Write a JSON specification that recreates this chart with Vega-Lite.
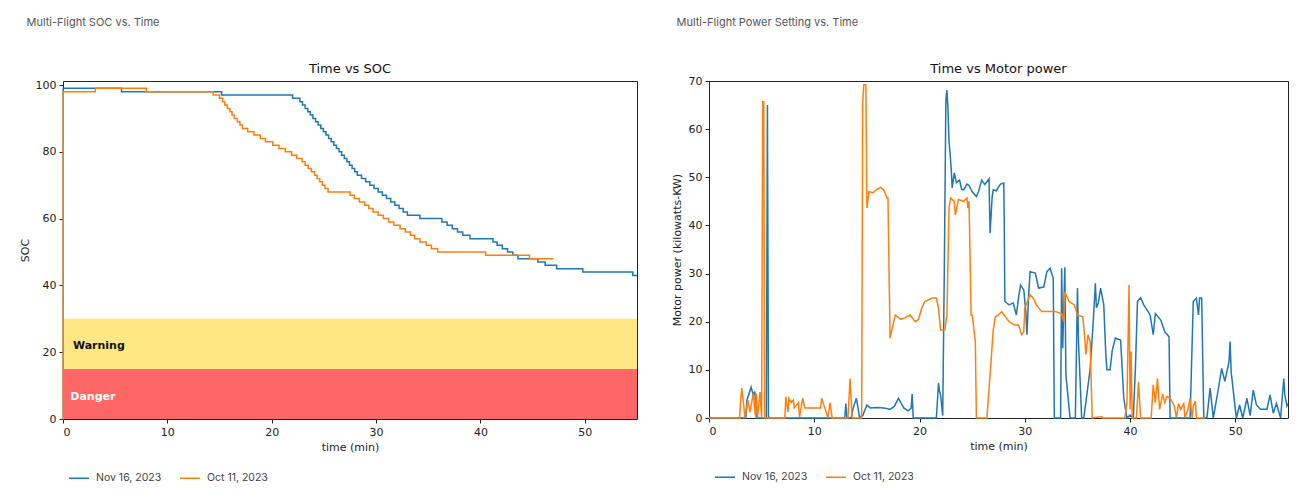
{
  "$schema": "https://vega.github.io/schema/vega-lite/v6.json",
  "background": "white",
  "padding": {"left": 18, "top": 16, "right": 0, "bottom": 0},
  "autosize": {"type": "pad"},
  "config": {
    "view": {"stroke": "#222", "strokeWidth": 1},
    "axis": {"grid": false, "domain": false, "tickColor": "#222", "tickSize": 4, "tickWidth": 1, "labelFont": "DejaVu Sans", "labelFontSize": 11, "labelColor": "#222", "labelPadding": 3, "titleFont": "DejaVu Sans", "titleFontSize": 11, "titleFontWeight": "normal", "titleColor": "#222"},
    "legend": {"orient": "bottom", "direction": "horizontal", "title": null, "symbolType": "stroke", "symbolSize": 400, "symbolStrokeWidth": 1.5, "labelFont": "Inter", "labelFontSize": 10.5, "labelColor": "#444", "labelOffset": 6, "columnPadding": 15, "padding": 5, "offset": 9}
  },
  "datasets": {
    "soc": [
      {"t": 0, "soc": 0, "flight": "Nov 16, 2023"},
      {"t": 0.02, "soc": 99, "flight": "Nov 16, 2023"},
      {"t": 5.6, "soc": 98, "flight": "Nov 16, 2023"},
      {"t": 15.2, "soc": 97, "flight": "Nov 16, 2023"},
      {"t": 22.0, "soc": 96, "flight": "Nov 16, 2023"},
      {"t": 22.7, "soc": 95, "flight": "Nov 16, 2023"},
      {"t": 22.95, "soc": 94, "flight": "Nov 16, 2023"},
      {"t": 23.2, "soc": 93, "flight": "Nov 16, 2023"},
      {"t": 23.45, "soc": 92, "flight": "Nov 16, 2023"},
      {"t": 23.7, "soc": 91, "flight": "Nov 16, 2023"},
      {"t": 23.95, "soc": 90, "flight": "Nov 16, 2023"},
      {"t": 24.2, "soc": 89, "flight": "Nov 16, 2023"},
      {"t": 24.45, "soc": 88, "flight": "Nov 16, 2023"},
      {"t": 24.7, "soc": 87, "flight": "Nov 16, 2023"},
      {"t": 24.95, "soc": 86, "flight": "Nov 16, 2023"},
      {"t": 25.2, "soc": 85, "flight": "Nov 16, 2023"},
      {"t": 25.45, "soc": 84, "flight": "Nov 16, 2023"},
      {"t": 25.7, "soc": 83, "flight": "Nov 16, 2023"},
      {"t": 25.95, "soc": 82, "flight": "Nov 16, 2023"},
      {"t": 26.2, "soc": 81, "flight": "Nov 16, 2023"},
      {"t": 26.45, "soc": 80, "flight": "Nov 16, 2023"},
      {"t": 26.7, "soc": 79, "flight": "Nov 16, 2023"},
      {"t": 26.95, "soc": 78, "flight": "Nov 16, 2023"},
      {"t": 27.2, "soc": 77, "flight": "Nov 16, 2023"},
      {"t": 27.45, "soc": 76, "flight": "Nov 16, 2023"},
      {"t": 27.7, "soc": 75, "flight": "Nov 16, 2023"},
      {"t": 27.95, "soc": 74, "flight": "Nov 16, 2023"},
      {"t": 28.2, "soc": 73, "flight": "Nov 16, 2023"},
      {"t": 28.6, "soc": 72, "flight": "Nov 16, 2023"},
      {"t": 29.0, "soc": 71, "flight": "Nov 16, 2023"},
      {"t": 29.4, "soc": 70, "flight": "Nov 16, 2023"},
      {"t": 29.8, "soc": 69, "flight": "Nov 16, 2023"},
      {"t": 30.2, "soc": 68, "flight": "Nov 16, 2023"},
      {"t": 30.6, "soc": 67, "flight": "Nov 16, 2023"},
      {"t": 31.0, "soc": 66, "flight": "Nov 16, 2023"},
      {"t": 31.4, "soc": 65, "flight": "Nov 16, 2023"},
      {"t": 31.8, "soc": 64, "flight": "Nov 16, 2023"},
      {"t": 32.2, "soc": 63, "flight": "Nov 16, 2023"},
      {"t": 32.6, "soc": 62, "flight": "Nov 16, 2023"},
      {"t": 33.0, "soc": 61, "flight": "Nov 16, 2023"},
      {"t": 34.2, "soc": 60, "flight": "Nov 16, 2023"},
      {"t": 36.3, "soc": 59, "flight": "Nov 16, 2023"},
      {"t": 36.8, "soc": 58, "flight": "Nov 16, 2023"},
      {"t": 37.3, "soc": 57, "flight": "Nov 16, 2023"},
      {"t": 37.8, "soc": 56, "flight": "Nov 16, 2023"},
      {"t": 38.3, "soc": 55, "flight": "Nov 16, 2023"},
      {"t": 39.0, "soc": 54, "flight": "Nov 16, 2023"},
      {"t": 41.2, "soc": 53, "flight": "Nov 16, 2023"},
      {"t": 41.6, "soc": 52, "flight": "Nov 16, 2023"},
      {"t": 42.1, "soc": 51, "flight": "Nov 16, 2023"},
      {"t": 42.6, "soc": 50, "flight": "Nov 16, 2023"},
      {"t": 43.1, "soc": 49, "flight": "Nov 16, 2023"},
      {"t": 43.6, "soc": 48, "flight": "Nov 16, 2023"},
      {"t": 45.5, "soc": 47, "flight": "Nov 16, 2023"},
      {"t": 46.2, "soc": 46, "flight": "Nov 16, 2023"},
      {"t": 47.3, "soc": 45, "flight": "Nov 16, 2023"},
      {"t": 49.8, "soc": 44, "flight": "Nov 16, 2023"},
      {"t": 54.6, "soc": 43, "flight": "Nov 16, 2023"},
      {"t": 55.0, "soc": 43, "flight": "Nov 16, 2023"},
      {"t": 0, "soc": 0, "flight": "Oct 11, 2023"},
      {"t": 0.02, "soc": 98, "flight": "Oct 11, 2023"},
      {"t": 3.1, "soc": 99, "flight": "Oct 11, 2023"},
      {"t": 8.0, "soc": 98, "flight": "Oct 11, 2023"},
      {"t": 14.4, "soc": 97, "flight": "Oct 11, 2023"},
      {"t": 15.0, "soc": 96, "flight": "Oct 11, 2023"},
      {"t": 15.3, "soc": 95, "flight": "Oct 11, 2023"},
      {"t": 15.5, "soc": 94, "flight": "Oct 11, 2023"},
      {"t": 15.75, "soc": 93, "flight": "Oct 11, 2023"},
      {"t": 16.0, "soc": 92, "flight": "Oct 11, 2023"},
      {"t": 16.2, "soc": 91, "flight": "Oct 11, 2023"},
      {"t": 16.4, "soc": 90, "flight": "Oct 11, 2023"},
      {"t": 16.7, "soc": 89, "flight": "Oct 11, 2023"},
      {"t": 16.95, "soc": 88, "flight": "Oct 11, 2023"},
      {"t": 17.2, "soc": 87, "flight": "Oct 11, 2023"},
      {"t": 17.7, "soc": 86, "flight": "Oct 11, 2023"},
      {"t": 18.3, "soc": 85, "flight": "Oct 11, 2023"},
      {"t": 18.9, "soc": 84, "flight": "Oct 11, 2023"},
      {"t": 19.4, "soc": 83, "flight": "Oct 11, 2023"},
      {"t": 20.1, "soc": 82, "flight": "Oct 11, 2023"},
      {"t": 20.7, "soc": 81, "flight": "Oct 11, 2023"},
      {"t": 21.3, "soc": 80, "flight": "Oct 11, 2023"},
      {"t": 21.9, "soc": 79, "flight": "Oct 11, 2023"},
      {"t": 22.4, "soc": 78, "flight": "Oct 11, 2023"},
      {"t": 22.9, "soc": 77, "flight": "Oct 11, 2023"},
      {"t": 23.2, "soc": 76, "flight": "Oct 11, 2023"},
      {"t": 23.5, "soc": 75, "flight": "Oct 11, 2023"},
      {"t": 23.8, "soc": 74, "flight": "Oct 11, 2023"},
      {"t": 24.1, "soc": 73, "flight": "Oct 11, 2023"},
      {"t": 24.35, "soc": 72, "flight": "Oct 11, 2023"},
      {"t": 24.6, "soc": 71, "flight": "Oct 11, 2023"},
      {"t": 24.85, "soc": 70, "flight": "Oct 11, 2023"},
      {"t": 25.1, "soc": 69, "flight": "Oct 11, 2023"},
      {"t": 25.4, "soc": 68, "flight": "Oct 11, 2023"},
      {"t": 27.5, "soc": 67, "flight": "Oct 11, 2023"},
      {"t": 27.9, "soc": 66, "flight": "Oct 11, 2023"},
      {"t": 28.4, "soc": 65, "flight": "Oct 11, 2023"},
      {"t": 28.9, "soc": 64, "flight": "Oct 11, 2023"},
      {"t": 29.3, "soc": 63, "flight": "Oct 11, 2023"},
      {"t": 29.7, "soc": 62, "flight": "Oct 11, 2023"},
      {"t": 30.2, "soc": 61, "flight": "Oct 11, 2023"},
      {"t": 30.7, "soc": 60, "flight": "Oct 11, 2023"},
      {"t": 31.2, "soc": 59, "flight": "Oct 11, 2023"},
      {"t": 31.7, "soc": 58, "flight": "Oct 11, 2023"},
      {"t": 32.3, "soc": 57, "flight": "Oct 11, 2023"},
      {"t": 32.8, "soc": 56, "flight": "Oct 11, 2023"},
      {"t": 33.3, "soc": 55, "flight": "Oct 11, 2023"},
      {"t": 33.7, "soc": 54, "flight": "Oct 11, 2023"},
      {"t": 34.2, "soc": 53, "flight": "Oct 11, 2023"},
      {"t": 34.8, "soc": 52, "flight": "Oct 11, 2023"},
      {"t": 35.3, "soc": 51, "flight": "Oct 11, 2023"},
      {"t": 35.9, "soc": 50, "flight": "Oct 11, 2023"},
      {"t": 40.5, "soc": 49, "flight": "Oct 11, 2023"},
      {"t": 44.7, "soc": 48, "flight": "Oct 11, 2023"},
      {"t": 47.0, "soc": 48, "flight": "Oct 11, 2023"}
    ],
    "power": [
      {"t": 0, "p": 0, "flight": "Nov 16, 2023"},
      {"t": 3.5, "p": 0, "flight": "Nov 16, 2023"},
      {"t": 3.6, "p": 3.7, "flight": "Nov 16, 2023"},
      {"t": 4.0, "p": 6.4, "flight": "Nov 16, 2023"},
      {"t": 4.2, "p": 4.8, "flight": "Nov 16, 2023"},
      {"t": 4.35, "p": 5.5, "flight": "Nov 16, 2023"},
      {"t": 4.5, "p": 0, "flight": "Nov 16, 2023"},
      {"t": 5.45, "p": 0, "flight": "Nov 16, 2023"},
      {"t": 5.55, "p": 65, "flight": "Nov 16, 2023"},
      {"t": 5.65, "p": 0, "flight": "Nov 16, 2023"},
      {"t": 12.9, "p": 0, "flight": "Nov 16, 2023"},
      {"t": 13.0, "p": 3, "flight": "Nov 16, 2023"},
      {"t": 13.1, "p": 0, "flight": "Nov 16, 2023"},
      {"t": 13.5, "p": 0, "flight": "Nov 16, 2023"},
      {"t": 13.7, "p": 2.1, "flight": "Nov 16, 2023"},
      {"t": 14.0, "p": 4.1, "flight": "Nov 16, 2023"},
      {"t": 14.3, "p": 0.2, "flight": "Nov 16, 2023"},
      {"t": 14.6, "p": 0.5, "flight": "Nov 16, 2023"},
      {"t": 15.0, "p": 2.7, "flight": "Nov 16, 2023"},
      {"t": 15.3, "p": 2.1, "flight": "Nov 16, 2023"},
      {"t": 16.0, "p": 2.2, "flight": "Nov 16, 2023"},
      {"t": 16.6, "p": 2.1, "flight": "Nov 16, 2023"},
      {"t": 17.2, "p": 1.8, "flight": "Nov 16, 2023"},
      {"t": 17.6, "p": 2.4, "flight": "Nov 16, 2023"},
      {"t": 18.0, "p": 4.1, "flight": "Nov 16, 2023"},
      {"t": 18.5, "p": 2.1, "flight": "Nov 16, 2023"},
      {"t": 18.9, "p": 1.5, "flight": "Nov 16, 2023"},
      {"t": 19.2, "p": 2.0, "flight": "Nov 16, 2023"},
      {"t": 19.3, "p": 5.0, "flight": "Nov 16, 2023"},
      {"t": 19.4, "p": 0, "flight": "Nov 16, 2023"},
      {"t": 21.6, "p": 0, "flight": "Nov 16, 2023"},
      {"t": 21.8, "p": 7.3, "flight": "Nov 16, 2023"},
      {"t": 21.9, "p": 5.5, "flight": "Nov 16, 2023"},
      {"t": 22.0, "p": 4.8, "flight": "Nov 16, 2023"},
      {"t": 22.2, "p": 0.5, "flight": "Nov 16, 2023"},
      {"t": 22.35, "p": 30, "flight": "Nov 16, 2023"},
      {"t": 22.5, "p": 66, "flight": "Nov 16, 2023"},
      {"t": 22.6, "p": 68.1, "flight": "Nov 16, 2023"},
      {"t": 22.7, "p": 64, "flight": "Nov 16, 2023"},
      {"t": 22.8, "p": 57.4, "flight": "Nov 16, 2023"},
      {"t": 22.9, "p": 55, "flight": "Nov 16, 2023"},
      {"t": 23.0, "p": 52, "flight": "Nov 16, 2023"},
      {"t": 23.1, "p": 47.8, "flight": "Nov 16, 2023"},
      {"t": 23.3, "p": 50.9, "flight": "Nov 16, 2023"},
      {"t": 23.5, "p": 48.9, "flight": "Nov 16, 2023"},
      {"t": 23.8, "p": 49.4, "flight": "Nov 16, 2023"},
      {"t": 24.0, "p": 47.5, "flight": "Nov 16, 2023"},
      {"t": 24.2, "p": 47.4, "flight": "Nov 16, 2023"},
      {"t": 24.5, "p": 48.6, "flight": "Nov 16, 2023"},
      {"t": 24.7, "p": 48.3, "flight": "Nov 16, 2023"},
      {"t": 25.0, "p": 47, "flight": "Nov 16, 2023"},
      {"t": 25.4, "p": 46.0, "flight": "Nov 16, 2023"},
      {"t": 25.6, "p": 47, "flight": "Nov 16, 2023"},
      {"t": 25.9, "p": 49.4, "flight": "Nov 16, 2023"},
      {"t": 26.2, "p": 48.5, "flight": "Nov 16, 2023"},
      {"t": 26.6, "p": 49.7, "flight": "Nov 16, 2023"},
      {"t": 26.7, "p": 38.4, "flight": "Nov 16, 2023"},
      {"t": 26.9, "p": 46, "flight": "Nov 16, 2023"},
      {"t": 27.0, "p": 47.4, "flight": "Nov 16, 2023"},
      {"t": 27.3, "p": 47.2, "flight": "Nov 16, 2023"},
      {"t": 27.5, "p": 48, "flight": "Nov 16, 2023"},
      {"t": 27.7, "p": 48.6, "flight": "Nov 16, 2023"},
      {"t": 28.0, "p": 48.8, "flight": "Nov 16, 2023"},
      {"t": 28.05, "p": 40, "flight": "Nov 16, 2023"},
      {"t": 28.1, "p": 24.2, "flight": "Nov 16, 2023"},
      {"t": 28.5, "p": 23.5, "flight": "Nov 16, 2023"},
      {"t": 28.9, "p": 23.9, "flight": "Nov 16, 2023"},
      {"t": 29.2, "p": 21.4, "flight": "Nov 16, 2023"},
      {"t": 29.4, "p": 25, "flight": "Nov 16, 2023"},
      {"t": 29.6, "p": 27.6, "flight": "Nov 16, 2023"},
      {"t": 29.9, "p": 26.6, "flight": "Nov 16, 2023"},
      {"t": 30.1, "p": 22, "flight": "Nov 16, 2023"},
      {"t": 30.2, "p": 17.3, "flight": "Nov 16, 2023"},
      {"t": 30.35, "p": 25, "flight": "Nov 16, 2023"},
      {"t": 30.5, "p": 30.4, "flight": "Nov 16, 2023"},
      {"t": 31.0, "p": 30.1, "flight": "Nov 16, 2023"},
      {"t": 31.3, "p": 27.0, "flight": "Nov 16, 2023"},
      {"t": 31.8, "p": 27.2, "flight": "Nov 16, 2023"},
      {"t": 32.1, "p": 30.4, "flight": "Nov 16, 2023"},
      {"t": 32.4, "p": 31.1, "flight": "Nov 16, 2023"},
      {"t": 32.7, "p": 29.0, "flight": "Nov 16, 2023"},
      {"t": 32.8, "p": 0, "flight": "Nov 16, 2023"},
      {"t": 33.4, "p": 0, "flight": "Nov 16, 2023"},
      {"t": 33.5, "p": 31.1, "flight": "Nov 16, 2023"},
      {"t": 33.6, "p": 14.5, "flight": "Nov 16, 2023"},
      {"t": 33.8, "p": 31.3, "flight": "Nov 16, 2023"},
      {"t": 33.9, "p": 9.0, "flight": "Nov 16, 2023"},
      {"t": 34.3, "p": 0, "flight": "Nov 16, 2023"},
      {"t": 34.8, "p": 0, "flight": "Nov 16, 2023"},
      {"t": 35.0, "p": 27.0, "flight": "Nov 16, 2023"},
      {"t": 35.1, "p": 15.8, "flight": "Nov 16, 2023"},
      {"t": 35.4, "p": 0, "flight": "Nov 16, 2023"},
      {"t": 35.6, "p": 0, "flight": "Nov 16, 2023"},
      {"t": 36.2, "p": 10, "flight": "Nov 16, 2023"},
      {"t": 36.5, "p": 20, "flight": "Nov 16, 2023"},
      {"t": 36.7, "p": 28.0, "flight": "Nov 16, 2023"},
      {"t": 36.8, "p": 22.9, "flight": "Nov 16, 2023"},
      {"t": 37.0, "p": 24, "flight": "Nov 16, 2023"},
      {"t": 37.2, "p": 27.0, "flight": "Nov 16, 2023"},
      {"t": 37.5, "p": 23.5, "flight": "Nov 16, 2023"},
      {"t": 37.6, "p": 18, "flight": "Nov 16, 2023"},
      {"t": 37.7, "p": 13, "flight": "Nov 16, 2023"},
      {"t": 37.8, "p": 10.0, "flight": "Nov 16, 2023"},
      {"t": 38.1, "p": 10.0, "flight": "Nov 16, 2023"},
      {"t": 38.3, "p": 14, "flight": "Nov 16, 2023"},
      {"t": 38.6, "p": 16.6, "flight": "Nov 16, 2023"},
      {"t": 39.1, "p": 16.2, "flight": "Nov 16, 2023"},
      {"t": 39.4, "p": 4.1, "flight": "Nov 16, 2023"},
      {"t": 39.7, "p": 0, "flight": "Nov 16, 2023"},
      {"t": 40.0, "p": 0.6, "flight": "Nov 16, 2023"},
      {"t": 40.3, "p": 0, "flight": "Nov 16, 2023"},
      {"t": 40.5, "p": 10, "flight": "Nov 16, 2023"},
      {"t": 40.7, "p": 24.2, "flight": "Nov 16, 2023"},
      {"t": 41.0, "p": 25.0, "flight": "Nov 16, 2023"},
      {"t": 41.3, "p": 23.5, "flight": "Nov 16, 2023"},
      {"t": 41.9, "p": 21.4, "flight": "Nov 16, 2023"},
      {"t": 42.2, "p": 17.3, "flight": "Nov 16, 2023"},
      {"t": 42.4, "p": 21.7, "flight": "Nov 16, 2023"},
      {"t": 42.9, "p": 20.4, "flight": "Nov 16, 2023"},
      {"t": 43.3, "p": 17.9, "flight": "Nov 16, 2023"},
      {"t": 43.7, "p": 16.9, "flight": "Nov 16, 2023"},
      {"t": 43.8, "p": 0, "flight": "Nov 16, 2023"},
      {"t": 45.7, "p": 0, "flight": "Nov 16, 2023"},
      {"t": 46.0, "p": 24.2, "flight": "Nov 16, 2023"},
      {"t": 46.3, "p": 24.9, "flight": "Nov 16, 2023"},
      {"t": 46.5, "p": 21.4, "flight": "Nov 16, 2023"},
      {"t": 46.6, "p": 24.9, "flight": "Nov 16, 2023"},
      {"t": 46.8, "p": 24.9, "flight": "Nov 16, 2023"},
      {"t": 47.0, "p": 0, "flight": "Nov 16, 2023"},
      {"t": 47.3, "p": 0, "flight": "Nov 16, 2023"},
      {"t": 47.6, "p": 6.2, "flight": "Nov 16, 2023"},
      {"t": 47.9, "p": 0, "flight": "Nov 16, 2023"},
      {"t": 48.4, "p": 6.2, "flight": "Nov 16, 2023"},
      {"t": 48.7, "p": 10.3, "flight": "Nov 16, 2023"},
      {"t": 49.0, "p": 7.6, "flight": "Nov 16, 2023"},
      {"t": 49.4, "p": 11.7, "flight": "Nov 16, 2023"},
      {"t": 49.5, "p": 15.9, "flight": "Nov 16, 2023"},
      {"t": 49.6, "p": 9.6, "flight": "Nov 16, 2023"},
      {"t": 50.0, "p": 1.8, "flight": "Nov 16, 2023"},
      {"t": 50.1, "p": 0, "flight": "Nov 16, 2023"},
      {"t": 50.4, "p": 2.7, "flight": "Nov 16, 2023"},
      {"t": 50.7, "p": 0, "flight": "Nov 16, 2023"},
      {"t": 51.1, "p": 4.1, "flight": "Nov 16, 2023"},
      {"t": 51.4, "p": 0.5, "flight": "Nov 16, 2023"},
      {"t": 51.7, "p": 5.8, "flight": "Nov 16, 2023"},
      {"t": 52.0, "p": 2.7, "flight": "Nov 16, 2023"},
      {"t": 52.4, "p": 1.8, "flight": "Nov 16, 2023"},
      {"t": 53.0, "p": 1.8, "flight": "Nov 16, 2023"},
      {"t": 53.3, "p": 4.8, "flight": "Nov 16, 2023"},
      {"t": 53.6, "p": 1.0, "flight": "Nov 16, 2023"},
      {"t": 53.9, "p": 3.0, "flight": "Nov 16, 2023"},
      {"t": 54.3, "p": 0, "flight": "Nov 16, 2023"},
      {"t": 54.6, "p": 8.2, "flight": "Nov 16, 2023"},
      {"t": 54.7, "p": 4.8, "flight": "Nov 16, 2023"},
      {"t": 54.9, "p": 2.5, "flight": "Nov 16, 2023"},
      {"t": 55.0, "p": 3, "flight": "Nov 16, 2023"},
      {"t": 0, "p": 0, "flight": "Oct 11, 2023"},
      {"t": 2.9, "p": 0, "flight": "Oct 11, 2023"},
      {"t": 3.1, "p": 6.2, "flight": "Oct 11, 2023"},
      {"t": 3.3, "p": 2.7, "flight": "Oct 11, 2023"},
      {"t": 3.4, "p": 0, "flight": "Oct 11, 2023"},
      {"t": 3.7, "p": 3.7, "flight": "Oct 11, 2023"},
      {"t": 3.9, "p": 1.2, "flight": "Oct 11, 2023"},
      {"t": 4.2, "p": 5.1, "flight": "Oct 11, 2023"},
      {"t": 4.4, "p": 0.6, "flight": "Oct 11, 2023"},
      {"t": 4.5, "p": 5.1, "flight": "Oct 11, 2023"},
      {"t": 4.6, "p": 0, "flight": "Oct 11, 2023"},
      {"t": 4.85, "p": 5.4, "flight": "Oct 11, 2023"},
      {"t": 5.0, "p": 0, "flight": "Oct 11, 2023"},
      {"t": 5.1, "p": 65.7, "flight": "Oct 11, 2023"},
      {"t": 5.2, "p": 65.7, "flight": "Oct 11, 2023"},
      {"t": 5.3, "p": 0, "flight": "Oct 11, 2023"},
      {"t": 7.2, "p": 0, "flight": "Oct 11, 2023"},
      {"t": 7.3, "p": 4.4, "flight": "Oct 11, 2023"},
      {"t": 7.5, "p": 1.2, "flight": "Oct 11, 2023"},
      {"t": 7.6, "p": 4.1, "flight": "Oct 11, 2023"},
      {"t": 7.8, "p": 3.2, "flight": "Oct 11, 2023"},
      {"t": 8.0, "p": 3.7, "flight": "Oct 11, 2023"},
      {"t": 8.1, "p": 2.1, "flight": "Oct 11, 2023"},
      {"t": 8.5, "p": 3.2, "flight": "Oct 11, 2023"},
      {"t": 8.6, "p": 0.2, "flight": "Oct 11, 2023"},
      {"t": 8.9, "p": 4.1, "flight": "Oct 11, 2023"},
      {"t": 9.1, "p": 2.1, "flight": "Oct 11, 2023"},
      {"t": 10.6, "p": 2.1, "flight": "Oct 11, 2023"},
      {"t": 10.7, "p": 4.1, "flight": "Oct 11, 2023"},
      {"t": 11.0, "p": 2.1, "flight": "Oct 11, 2023"},
      {"t": 11.3, "p": 0, "flight": "Oct 11, 2023"},
      {"t": 11.5, "p": 3.2, "flight": "Oct 11, 2023"},
      {"t": 11.7, "p": 0, "flight": "Oct 11, 2023"},
      {"t": 13.2, "p": 0, "flight": "Oct 11, 2023"},
      {"t": 13.4, "p": 8.2, "flight": "Oct 11, 2023"},
      {"t": 13.6, "p": 0, "flight": "Oct 11, 2023"},
      {"t": 14.5, "p": 0, "flight": "Oct 11, 2023"},
      {"t": 14.6, "p": 65.4, "flight": "Oct 11, 2023"},
      {"t": 14.7, "p": 69.2, "flight": "Oct 11, 2023"},
      {"t": 14.9, "p": 69.2, "flight": "Oct 11, 2023"},
      {"t": 15.0, "p": 43.6, "flight": "Oct 11, 2023"},
      {"t": 15.2, "p": 47.0, "flight": "Oct 11, 2023"},
      {"t": 15.6, "p": 46.8, "flight": "Oct 11, 2023"},
      {"t": 15.9, "p": 47.4, "flight": "Oct 11, 2023"},
      {"t": 16.3, "p": 47.9, "flight": "Oct 11, 2023"},
      {"t": 16.6, "p": 47.4, "flight": "Oct 11, 2023"},
      {"t": 16.9, "p": 45.7, "flight": "Oct 11, 2023"},
      {"t": 17.0, "p": 45.7, "flight": "Oct 11, 2023"},
      {"t": 17.2, "p": 16.6, "flight": "Oct 11, 2023"},
      {"t": 17.4, "p": 18.6, "flight": "Oct 11, 2023"},
      {"t": 17.7, "p": 21.4, "flight": "Oct 11, 2023"},
      {"t": 18.2, "p": 20.5, "flight": "Oct 11, 2023"},
      {"t": 18.6, "p": 20.8, "flight": "Oct 11, 2023"},
      {"t": 19.1, "p": 21.4, "flight": "Oct 11, 2023"},
      {"t": 19.6, "p": 20.0, "flight": "Oct 11, 2023"},
      {"t": 19.9, "p": 20.5, "flight": "Oct 11, 2023"},
      {"t": 20.2, "p": 22.8, "flight": "Oct 11, 2023"},
      {"t": 20.5, "p": 24.2, "flight": "Oct 11, 2023"},
      {"t": 21.2, "p": 24.9, "flight": "Oct 11, 2023"},
      {"t": 21.6, "p": 24.9, "flight": "Oct 11, 2023"},
      {"t": 21.8, "p": 22.8, "flight": "Oct 11, 2023"},
      {"t": 22.0, "p": 18.3, "flight": "Oct 11, 2023"},
      {"t": 22.4, "p": 18.3, "flight": "Oct 11, 2023"},
      {"t": 22.6, "p": 21.4, "flight": "Oct 11, 2023"},
      {"t": 22.8, "p": 43.6, "flight": "Oct 11, 2023"},
      {"t": 22.95, "p": 45.7, "flight": "Oct 11, 2023"},
      {"t": 23.3, "p": 45.0, "flight": "Oct 11, 2023"},
      {"t": 23.4, "p": 42.2, "flight": "Oct 11, 2023"},
      {"t": 23.7, "p": 45.4, "flight": "Oct 11, 2023"},
      {"t": 24.2, "p": 45.0, "flight": "Oct 11, 2023"},
      {"t": 24.5, "p": 45.7, "flight": "Oct 11, 2023"},
      {"t": 24.6, "p": 43.6, "flight": "Oct 11, 2023"},
      {"t": 24.7, "p": 45.0, "flight": "Oct 11, 2023"},
      {"t": 24.9, "p": 21.4, "flight": "Oct 11, 2023"},
      {"t": 25.0, "p": 21.4, "flight": "Oct 11, 2023"},
      {"t": 25.3, "p": 15.9, "flight": "Oct 11, 2023"},
      {"t": 25.4, "p": 0, "flight": "Oct 11, 2023"},
      {"t": 26.4, "p": 0, "flight": "Oct 11, 2023"},
      {"t": 26.7, "p": 8.9, "flight": "Oct 11, 2023"},
      {"t": 27.0, "p": 18.3, "flight": "Oct 11, 2023"},
      {"t": 27.2, "p": 21.0, "flight": "Oct 11, 2023"},
      {"t": 27.5, "p": 21.4, "flight": "Oct 11, 2023"},
      {"t": 27.8, "p": 22.1, "flight": "Oct 11, 2023"},
      {"t": 28.5, "p": 20.0, "flight": "Oct 11, 2023"},
      {"t": 29.0, "p": 19.3, "flight": "Oct 11, 2023"},
      {"t": 29.4, "p": 19.3, "flight": "Oct 11, 2023"},
      {"t": 29.7, "p": 17.3, "flight": "Oct 11, 2023"},
      {"t": 29.9, "p": 17.9, "flight": "Oct 11, 2023"},
      {"t": 30.0, "p": 22.8, "flight": "Oct 11, 2023"},
      {"t": 30.5, "p": 25.6, "flight": "Oct 11, 2023"},
      {"t": 30.8, "p": 24.9, "flight": "Oct 11, 2023"},
      {"t": 31.1, "p": 23.5, "flight": "Oct 11, 2023"},
      {"t": 31.6, "p": 22.1, "flight": "Oct 11, 2023"},
      {"t": 32.2, "p": 22.1, "flight": "Oct 11, 2023"},
      {"t": 32.9, "p": 22.1, "flight": "Oct 11, 2023"},
      {"t": 33.5, "p": 21.7, "flight": "Oct 11, 2023"},
      {"t": 33.7, "p": 20.0, "flight": "Oct 11, 2023"},
      {"t": 33.8, "p": 26.2, "flight": "Oct 11, 2023"},
      {"t": 34.2, "p": 24.2, "flight": "Oct 11, 2023"},
      {"t": 34.7, "p": 23.5, "flight": "Oct 11, 2023"},
      {"t": 35.0, "p": 21.4, "flight": "Oct 11, 2023"},
      {"t": 35.5, "p": 21.0, "flight": "Oct 11, 2023"},
      {"t": 35.7, "p": 16.6, "flight": "Oct 11, 2023"},
      {"t": 35.8, "p": 13.2, "flight": "Oct 11, 2023"},
      {"t": 36.0, "p": 17.3, "flight": "Oct 11, 2023"},
      {"t": 36.2, "p": 15.9, "flight": "Oct 11, 2023"},
      {"t": 36.4, "p": 0, "flight": "Oct 11, 2023"},
      {"t": 37.3, "p": 0.3, "flight": "Oct 11, 2023"},
      {"t": 37.4, "p": 0, "flight": "Oct 11, 2023"},
      {"t": 39.5, "p": 0, "flight": "Oct 11, 2023"},
      {"t": 39.7, "p": 3.0, "flight": "Oct 11, 2023"},
      {"t": 39.9, "p": 27.6, "flight": "Oct 11, 2023"},
      {"t": 40.0, "p": 1.8, "flight": "Oct 11, 2023"},
      {"t": 40.1, "p": 13.8, "flight": "Oct 11, 2023"},
      {"t": 40.2, "p": 0, "flight": "Oct 11, 2023"},
      {"t": 40.6, "p": 0, "flight": "Oct 11, 2023"},
      {"t": 40.8, "p": 7.5, "flight": "Oct 11, 2023"},
      {"t": 41.0, "p": 0, "flight": "Oct 11, 2023"},
      {"t": 42.0, "p": 0, "flight": "Oct 11, 2023"},
      {"t": 42.2, "p": 6.9, "flight": "Oct 11, 2023"},
      {"t": 42.4, "p": 3.2, "flight": "Oct 11, 2023"},
      {"t": 42.6, "p": 8.2, "flight": "Oct 11, 2023"},
      {"t": 42.8, "p": 1.8, "flight": "Oct 11, 2023"},
      {"t": 43.1, "p": 5.0, "flight": "Oct 11, 2023"},
      {"t": 43.3, "p": 3.2, "flight": "Oct 11, 2023"},
      {"t": 43.5, "p": 4.5, "flight": "Oct 11, 2023"},
      {"t": 43.8, "p": 4.1, "flight": "Oct 11, 2023"},
      {"t": 44.2, "p": 2.5, "flight": "Oct 11, 2023"},
      {"t": 44.4, "p": 0, "flight": "Oct 11, 2023"},
      {"t": 44.6, "p": 3.0, "flight": "Oct 11, 2023"},
      {"t": 44.8, "p": 1.8, "flight": "Oct 11, 2023"},
      {"t": 45.1, "p": 3.0, "flight": "Oct 11, 2023"},
      {"t": 45.2, "p": 0, "flight": "Oct 11, 2023"},
      {"t": 45.5, "p": 1.8, "flight": "Oct 11, 2023"},
      {"t": 45.7, "p": 4.1, "flight": "Oct 11, 2023"},
      {"t": 45.9, "p": 0, "flight": "Oct 11, 2023"},
      {"t": 46.0, "p": 2.5, "flight": "Oct 11, 2023"},
      {"t": 46.2, "p": 3.5, "flight": "Oct 11, 2023"},
      {"t": 46.3, "p": 0, "flight": "Oct 11, 2023"},
      {"t": 47.1, "p": 0, "flight": "Oct 11, 2023"}
    ],
    "zones": [
      {"zone": "Danger", "soc": 0, "soc2": 15},
      {"zone": "Warning", "soc": 15, "soc2": 30}
    ],
    "zoneLabels": [
      {"label": "Warning", "t": 0.95, "soc": 22},
      {"label": "Danger", "t": 0.7, "soc": 6.7}
    ]
  },
  "resolve": {"scale": {"color": "independent"}, "legend": {"color": "independent"}},
  "spacing": 29,
  "hconcat": [
    {
      "title": {"text": "Multi-Flight SOC vs. Time", "anchor": "start", "font": "Inter", "fontSize": 11, "fontWeight": "normal", "color": "#555", "offset": 35, "dx": 8},
      "vconcat": [
        {
          "title": {"text": "Time vs SOC", "font": "DejaVu Sans", "fontSize": 13, "fontWeight": "normal", "color": "#111", "offset": 3},
          "width": 574,
          "height": 338,
          "layer": [
            {
              "data": {"name": "zones"},
              "mark": {"type": "rect"},
              "encoding": {
                "y": {"field": "soc", "type": "quantitative", "title": "SOC", "scale": {"domain": [0, 101.2], "nice": false, "zero": false}, "axis": {"values": [0, 20, 40, 60, 80, 100], "titlePadding": 5}},
                "y2": {"field": "soc2"},
                "fill": {"field": "zone", "type": "nominal", "scale": {"domain": ["Danger", "Warning"], "range": ["#ff6666", "#ffe883"]}, "legend": null}
              }
            },
            {
              "data": {"name": "soc"},
              "mark": {"type": "line", "interpolate": "step-after", "strokeWidth": 1.5},
              "encoding": {
                "x": {"field": "t", "type": "quantitative", "title": "time (min)", "scale": {"domain": [0, 55], "nice": false, "zero": false}, "axis": {"values": [0, 10, 20, 30, 40, 50]}},
                "y": {"field": "soc", "type": "quantitative", "title": "SOC"},
                "color": {"field": "flight", "type": "nominal", "scale": {"domain": ["Nov 16, 2023", "Oct 11, 2023"], "range": ["#1f77b4", "#ff7f0e"]}}
              }
            },
            {
              "data": {"name": "zoneLabels"},
              "mark": {"type": "text", "align": "left", "baseline": "middle", "font": "DejaVu Sans", "fontSize": 11, "fontWeight": "bold"},
              "encoding": {
                "x": {"field": "t", "type": "quantitative"},
                "y": {"field": "soc", "type": "quantitative", "title": "SOC"},
                "text": {"field": "label"},
                "fill": {"field": "label", "type": "nominal", "scale": {"domain": ["Warning", "Danger"], "range": ["#111111", "#ffffff"]}, "legend": null}
              }
            }
          ],
          "resolve": {"scale": {"fill": "independent"}}
        }
      ]
    },
    {
      "title": {"text": "Multi-Flight Power Setting vs. Time", "anchor": "start", "font": "Inter", "fontSize": 11, "fontWeight": "normal", "color": "#555", "offset": 35, "dx": 6},
      "vconcat": [
        {
          "title": {"text": "Time vs Motor power", "font": "DejaVu Sans", "fontSize": 13, "fontWeight": "normal", "color": "#111", "offset": -1},
          "width": 579,
          "height": 337,
          "data": {"name": "power"},
          "mark": {"type": "line", "strokeWidth": 1.5},
          "encoding": {
            "x": {"field": "t", "type": "quantitative", "title": "time (min)", "scale": {"domain": [0, 55], "nice": false, "zero": false}, "axis": {"values": [0, 10, 20, 30, 40, 50]}},
            "y": {"field": "p", "type": "quantitative", "title": "Motor power (kilowatts-KW)", "scale": {"domain": [0, 70], "nice": false}, "axis": {"values": [0, 10, 20, 30, 40, 50, 60, 70], "titlePadding": 6}},
            "color": {"field": "flight", "type": "nominal", "scale": {"domain": ["Nov 16, 2023", "Oct 11, 2023"], "range": ["#1f77b4", "#ff7f0e"]}}
          }
        }
      ]
    }
  ]
}
